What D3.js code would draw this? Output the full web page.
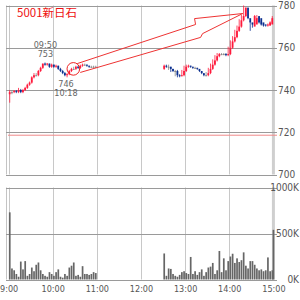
<!DOCTYPE html>
<html><head><meta charset="utf-8">
<script src="https://cdn.jsdelivr.net/npm/d3@7"></script>
<style>body{margin:0;background:#fff}svg{display:block}</style>
</head><body><svg id="c" width="300" height="300"></svg>
<script>
const title = "5001新日石";
const priceTicks = [700, 720, 740, 760, 780];
const volTicks = [0, 500, 1000];
const volTickLabels = ["0K", "500K", "1000K"];
const timeTicks = [540, 600, 660, 720, 780, 840, 900];
const timeLabels = ["9:00", "10:00", "11:00", "12:00", "13:00", "14:00", "15:00"];
const amStart = 540, pmStart = 750, barMin = 3;

const amOpen  = [738,739,739,739.5,739,740,739,740,741,742.5,743.5,746,747,747,749,750.5,752.5,752,752.5,751,752,751,751.5,750,749,748,747,747.5,749,750,750,751,750.5,751.5,752,752,751.5,751,751,751];
const amHigh  = [740,740,740,740,741,740.5,740.5,741.5,743,744,746.5,748,748,749.5,751,752.5,753,752.8,752.5,752.5,752,752,751.5,750.5,749.5,748.5,748,749.5,750.5,751,751.5,751.5,752,752.5,752.5,752,751.5,751.5,751.5,751.5];
const amLow   = [734,738,738.5,738.5,738.5,738.5,738.5,739.5,740.5,742,743,745.5,746.5,746.5,748.5,750,751.5,751.5,750.5,750.5,750.5,750.5,749.5,748.5,747.5,746.5,746,747,748.5,749.5,749.5,750,750,751,751.5,751,750.5,750.5,750.5,750.5];
const amClose = [739,739,739.5,739,740,739,740,741,742.5,743.5,746,747,747,749,750.5,752.5,752,752.5,751,752,751,751.5,750,749,748,747,747.5,749,750,750,751,750.5,751.5,752,752,751.5,751,751,751,751];
const amVol   = [730,120,100,60,30,195,110,200,40,60,130,90,160,185,100,60,40,30,80,60,40,80,110,30,20,60,40,130,150,185,40,50,30,145,60,60,50,60,80,70];

const pmOpen  = [750,751.5,751,751,750,749,749,747,746.5,747,749,751,751.5,751,750.5,750.5,750,749,748,747,747,748,750,752,754,756,757,757,757,756.5,757,760,763,765,768,770,773,775,779,774,772,770,771,775,774,772,771,770.5,770.5,771];
const pmHigh  = [752,752,752,751,750,749.5,749.5,747.5,749.5,751.5,752,752,751.5,751,751,750.5,749.5,748.5,747.5,748.5,750.5,752.5,754.5,756.5,757.5,757.5,757.5,757.5,757.5,760.5,763.5,765.5,768.5,770.5,773.5,775.5,780,779,774.5,772.5,771.5,775.5,775.5,774.5,772.5,771.5,771,771.5,772.5,775];
const pmLow   = [749.5,750.5,749.5,748.5,748.5,746.5,746,746,746.5,746.5,748.5,750.5,750.5,750,750,749.5,748.5,747.5,746.5,746.5,746.5,747.5,749.5,751.5,753.5,755.5,756.5,756.5,756,756,756.5,759.5,762.5,764.5,767.5,769.5,772.5,774.5,773.5,768,769.5,770.5,773.5,771.5,770.5,770,770,770,770.5,771.5];
const pmClose = [751.5,751,751,750,749,749,747,746.5,747,749,751,751.5,751,750.5,750.5,750,749,748,747,747,748,750,752,754,756,757,757,757,756.5,757,760,763,765,768,770,773,775,779,774,772,771,775,774,772,771,770.5,770.5,771,772,774];
const pmVol   = [283,40,120,115,60,40,30,50,80,90,70,60,245,60,90,50,80,110,40,80,130,140,180,60,100,310,80,230,100,200,250,280,180,230,190,210,295,150,120,200,200,160,120,100,110,90,100,240,90,100];
const closeVol = 540; // 15:00 closing auction

const refLine = 718.6;
const annHigh = {time: 590, price: 753, label: ["09:50", "753"]};
const annLow  = {time: 618, price: 746, label: ["746", "10:18"]};
const circleAt = [628, 750];
const arrowPts = [[633.3,752.5],[794.2,771],[792.8,773.8],[858.3,776.2],[803.7,766.7],[801,764.9],[637.4,748.3]];

const svg = d3.select("#c");
const x = d3.scaleLinear().domain([540, 900]).range([8.6, 273.4]);
const y = d3.scaleLinear().domain([700, 780]).range([174.5, 5.5]);
const yv = d3.scaleLinear().domain([0, 1000]).range([279.5, 187.5]);
const font = "'Liberation Sans Narrow','DejaVu Sans Condensed',sans-serif";

function bars(start, o, h, l, c, v) {
  return c.map((cl, i) => ({t: start + i * barMin, o: o[i], h: h[i], l: l[i], c: cl, v: v[i]}));
}
const data = bars(amStart, amOpen, amHigh, amLow, amClose, amVol).concat(bars(pmStart, pmOpen, pmHigh, pmLow, pmClose, pmVol));

const g = svg.append("g");
// vertical grid
const panels = [[5.5, 174.5], [187.5, 279.5]];
panels.forEach(([t, b]) => {
  g.append("line").attr("x1", 6.5).attr("x2", 6.5).attr("y1", t).attr("y2", b).attr("stroke", "#c4c4c4");
  timeTicks.slice(0, 6).forEach(tt => {
    g.append("line").attr("x1", Math.round(x(tt)) + 0.5).attr("x2", Math.round(x(tt)) + 0.5)
      .attr("y1", t).attr("y2", b).attr("stroke", "#c8c8c8");
  });
  g.append("line").attr("x1", x(900)).attr("x2", x(900)).attr("y1", t).attr("y2", b)
    .attr("stroke", "#cfcfcf").attr("stroke-width", 3);
});
// horizontal grid
priceTicks.forEach(p => g.append("line").attr("x1", 6).attr("x2", 277).attr("y1", Math.round(y(p)) + 0.5).attr("y2", Math.round(y(p)) + 0.5).attr("stroke", "#9a9a9a"));
volTicks.forEach(p => g.append("line").attr("x1", 6).attr("x2", 277).attr("y1", Math.round(yv(p)) + 0.5).attr("y2", Math.round(yv(p)) + 0.5).attr("stroke", "#9a9a9a"));
g.append("line").attr("x1", 8).attr("x2", 277).attr("y1", y(refLine)).attr("y2", y(refLine)).attr("stroke", "#f08a8a");

// volume
svg.append("g").selectAll("rect").data(data).join("rect")
  .attr("x", d => x(d.t) + 0.3).attr("width", 1.7)
  .attr("y", d => yv(d.v)).attr("height", d => yv(0) - yv(d.v)).attr("fill", "#666");
svg.append("rect").attr("x", x(900) - 0.8).attr("width", 1.7).attr("y", yv(closeVol)).attr("height", yv(0) - yv(closeVol)).attr("fill", "#666");

// candles
const col = d => d.c > d.o ? "#ff1a3c" : d.c < d.o ? "#0b2f8f" : "#888";
const cg = svg.append("g").selectAll("g").data(data).join("g");
cg.append("line").attr("x1", d => x(d.t + 1.5)).attr("x2", d => x(d.t + 1.5))
  .attr("y1", d => y(d.h)).attr("y2", d => y(d.l)).attr("stroke", col).attr("stroke-width", 0.8);
cg.append("rect").attr("x", d => x(d.t + 1.5) - 0.9).attr("width", 1.8)
  .attr("y", d => y(Math.max(d.o, d.c))).attr("height", d => Math.max(1, Math.abs(y(d.o) - y(d.c))))
  .attr("fill", col);

// axes
const pa = svg.append("g").attr("transform", "translate(277,0)")
  .call(d3.axisRight(y).tickValues(priceTicks).tickSize(0).tickPadding(1));
const va = svg.append("g").attr("transform", "translate(300,0)")
  .call(d3.axisLeft(yv).tickValues(volTicks).tickFormat((d, i) => volTickLabels[i]).tickSize(0).tickPadding(1));
const ta = svg.append("g").attr("transform", "translate(0,284)")
  .call(d3.axisBottom(x).tickValues(timeTicks).tickFormat((d, i) => timeLabels[i]).tickSize(0).tickPadding(2));
[pa, va, ta].forEach(a => {
  a.select(".domain").remove();
  a.selectAll("text").attr("fill", "#555").style("font-family", font).style("font-size", "10px");
});
ta.selectAll("text").style("font-size", "9px");

// title
svg.append("text").attr("x", 17).attr("y", 17).text(title).attr("fill", "#ee1111")
  .style("font-family", "'Noto Sans CJK JP',sans-serif").style("font-size", "11.5px");

// annotations
function ann(a, dy) {
  a.label.forEach((s, i) => svg.append("text").attr("x", x(a.time)).attr("y", y(a.price) + dy + i * 9)
    .attr("text-anchor", "middle").attr("fill", "#666").style("font-family", font).style("font-size", "9px").text(s));
}
ann(annHigh, -15);
ann(annLow, 10);
svg.append("circle").attr("cx", x(circleAt[0])).attr("cy", y(circleAt[1])).attr("r", 6.3)
  .attr("fill", "none").attr("stroke", "#ee2222").attr("stroke-width", 1);
svg.append("path").attr("d", d3.line().x(d => x(d[0])).y(d => y(d[1]))(arrowPts))
  .attr("fill", "none").attr("stroke", "#ee3333").attr("stroke-width", 1);
</script></body></html>
